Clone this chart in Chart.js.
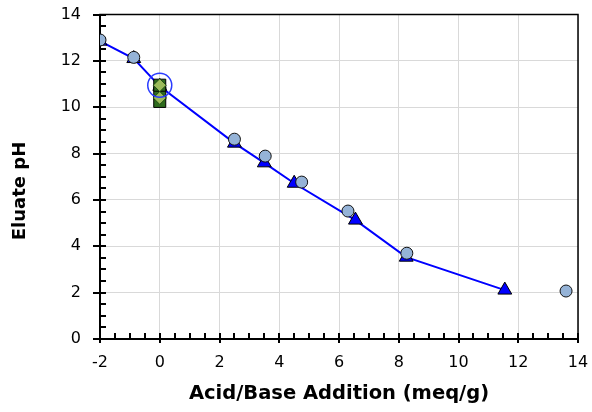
<!DOCTYPE html>
<html>
<head>
<meta charset="utf-8">
<script src="https://cdn.jsdelivr.net/npm/chart.js@4/dist/chart.umd.min.js"></script>
<style>
    html, body { margin: 0; padding: 0; background: #fff; }
    #wrap { width: 592px; height: 412px; }
</style>
</head>
<body>
<div id="wrap"><canvas id="titration"></canvas></div>
<script>
// Titration curve (triangles, joined by the line)
const titrX = [-2, -0.87, 0, 2.5, 3.5, 4.5, 6.55, 8.25, 11.55];
const titrY = [12.85, 12.1, 10.9, 8.45, 7.6, 6.72, 5.13, 3.53, 2.11];

// Second set of eluate measurements (circles)
const eluX = [-2, -0.87, 2.5, 3.53, 4.75, 6.3, 8.27, 13.6];
const eluY = [12.9, 12.15, 8.62, 7.89, 6.77, 5.52, 3.7, 2.07];

// Natural pH replicates at zero addition
const natSqX = [0, 0, 0];
const natSqY = [10.25, 10.6, 10.95];
const natDiaX = [0, 0];
const natDiaY = [10.4, 10.95];

// Own-pH point, drawn as an open ring
const ownX = [0];
const ownY = [10.95];

const xTicks = [-2, 0, 2, 4, 6, 8, 10, 12, 14];
const yTicks = [0, 2, 4, 6, 8, 10, 12, 14];

const toPoints = (xs, ys) => xs.map((x, i) => ({ x: x, y: ys[i] }));

// Ticks (major crossing the axis, minor inside), outer frame and rotated y title
const axisDecor = {
    id: 'axisDecor',
    beforeDatasetsDraw(chart) {
        const { ctx, chartArea, scales } = chart;
        const xs = scales.x, ys = scales.y;
        ctx.save();
        ctx.strokeStyle = '#000';
        ctx.lineWidth = 1.5;
        ctx.strokeRect(chartArea.left, chartArea.top, chartArea.right - chartArea.left, chartArea.bottom - chartArea.top);

        ctx.lineWidth = 2;
        ctx.beginPath();
        for (let v = -2; v <= 14.001; v += 0.5) {
            const px = Math.round(xs.getPixelForValue(v));
            const major = Math.abs(v % 2) < 0.001;
            ctx.moveTo(px, chartArea.bottom + (major ? 4 : 0));
            ctx.lineTo(px, chartArea.bottom - 6);
        }
        for (let v = 0; v <= 14.001; v += 0.5) {
            const py = Math.round(ys.getPixelForValue(v));
            const major = Math.abs(v % 2) < 0.001;
            ctx.moveTo(chartArea.left - (major ? 7 : 0), py);
            ctx.lineTo(chartArea.left + 6, py);
        }
        ctx.stroke();
        ctx.restore();
    },
    afterDraw(chart) {
        const { ctx } = chart;
        ctx.save();
        ctx.translate(20, 191);
        ctx.rotate(-Math.PI / 2);
        ctx.font = 'bold 18px "DejaVu Sans"';
        ctx.fillStyle = '#000';
        ctx.textAlign = 'center';
        ctx.textBaseline = 'middle';
        ctx.fillText('Eluate pH', 0, 0);
        ctx.restore();
    }
};

const chartconfig = {
    type: 'scatter',
    data: {
        datasets: [
            {
                label: 'Own pH',
                data: toPoints(ownX, ownY),
                pointStyle: 'circle',
                pointRadius: 12,
                backgroundColor: 'rgba(0,0,0,0)',
                borderColor: '#2a3cff',
                borderWidth: 1.5,
                showLine: false
            },
            {
                label: 'Eluate',
                data: toPoints(eluX, eluY),
                pointStyle: 'circle',
                pointRadius: 6,
                backgroundColor: '#95b3d7',
                borderColor: '#111',
                borderWidth: 1,
                showLine: false
            },
            {
                label: 'Natural (diamonds)',
                data: toPoints(natDiaX, natDiaY),
                pointStyle: 'rectRot',
                pointRadius: 6.5,
                backgroundColor: '#9bbb59',
                borderColor: '#1f4a12',
                borderWidth: 1,
                showLine: false
            },
            {
                label: 'Natural (squares)',
                data: toPoints(natSqX, natSqY),
                pointStyle: 'rect',
                pointRadius: 8.5,
                backgroundColor: '#2e6b1d',
                borderColor: '#000',
                borderWidth: 1,
                showLine: false
            },
            {
                label: 'Titration',
                data: toPoints(titrX, titrY),
                pointStyle: 'triangle',
                pointRadius: 8,
                backgroundColor: '#0000ff',
                pointBorderColor: '#000',
                borderColor: '#0000ff',
                pointBorderWidth: 1,
                borderWidth: 2,
                showLine: true,
                lineTension: 0
            }
        ]
    },
    options: {
        responsive: true,
        maintainAspectRatio: false,
        animation: false,
        layout: { padding: 0 },
        scales: {
            x: {
                type: 'linear',
                min: -2,
                max: 14,
                afterBuildTicks: scale => { scale.ticks = xTicks.map(v => ({ value: v })); },
                afterFit: scale => {
                    scale.height = 73;
                    scale.paddingLeft = 0;
                    scale.paddingRight = 14;
                },
                grid: { color: '#d9d9d9', lineWidth: 1, drawTicks: false },
                border: { display: true, color: '#000', width: 2 },
                ticks: {
                    padding: 14,
                    color: '#000',
                    font: { family: 'DejaVu Sans', size: 16 }
                },
                title: {
                    display: true,
                    text: 'Acid/Base Addition (meq/g)',
                    color: '#000',
                    padding: { top: 4, bottom: 6 },
                    font: { family: 'DejaVu Sans', size: 19.5, weight: 'bold' }
                }
            },
            y: {
                type: 'linear',
                min: 0,
                max: 14,
                afterBuildTicks: scale => { scale.ticks = yTicks.map(v => ({ value: v })); },
                afterFit: scale => {
                    scale.width = 100;
                    scale.paddingTop = 14.5;
                    scale.paddingBottom = 0;
                },
                grid: { color: '#d9d9d9', lineWidth: 1, drawTicks: false },
                border: { display: true, color: '#000', width: 2 },
                ticks: {
                    padding: 19,
                    color: '#000',
                    font: { family: 'DejaVu Sans', size: 16 }
                }
            }
        },
        plugins: {
            legend: { display: false },
            tooltip: { enabled: false },
            title: { display: false }
        }
    },
    plugins: [axisDecor]
};

const chart = new Chart('titration', chartconfig);
</script>
</body>
</html>
